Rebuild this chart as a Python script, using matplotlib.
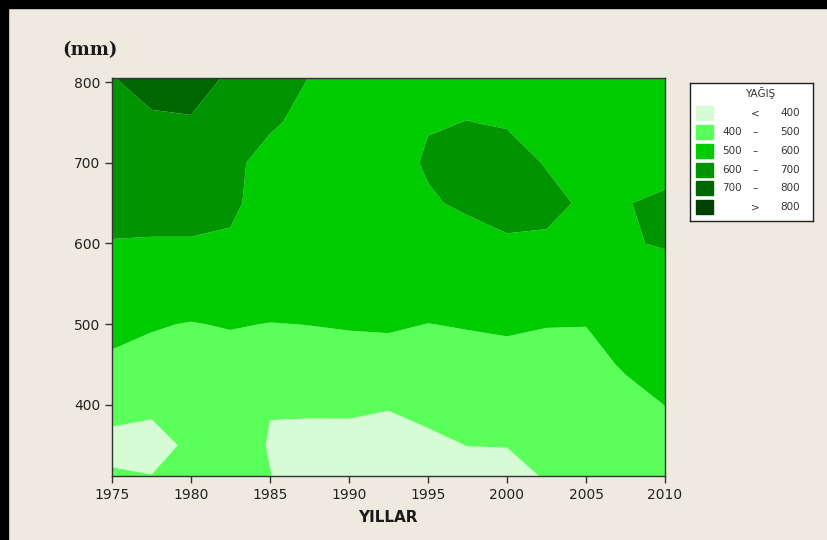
import matplotlib
matplotlib.use('Agg')
import matplotlib.pyplot as plt
from matplotlib.patches import Rectangle
import numpy as np

# grid: years (x), mm (y), rainfall class values (z)
years = [1975, 1977.5, 1980, 1982.5, 1985, 1987.5, 1990, 1992.5, 1995,
         1997.5, 2000, 2002.5, 2005, 2007.5, 2010]
mm = [312, 350, 400, 450, 500, 550, 600, 650, 700, 750, 805]
yagis = [
    [412, 402, 440, 450, 402, 360, 355, 350, 360, 370, 375, 406, 440, 445, 455],
    [370, 360, 420, 440, 395, 360, 365, 370, 385, 401, 402, 420, 445, 455, 470],
    [435, 422, 445, 450, 403, 420, 418, 405, 420, 430, 435, 440, 455, 470, 501],
    [488, 480, 480, 470, 475, 470, 468, 465, 470, 470, 470, 470, 470, 510, 530],
    [520, 505, 497, 505, 498, 501, 506, 510, 499, 505, 513, 503, 502, 540, 550],
    [560, 555, 545, 550, 545, 550, 545, 545, 540, 545, 550, 545, 540, 560, 570],
    [595, 592, 592, 590, 570, 560, 555, 555, 555, 565, 590, 590, 580, 595, 605],
    [640, 640, 640, 615, 565, 560, 555, 560, 590, 615, 630, 618, 590, 597, 615],
    [660, 670, 668, 620, 570, 560, 555, 565, 610, 635, 625, 596, 575, 570, 570],
    [680, 692, 694, 665, 612, 575, 560, 565, 595, 601, 595, 575, 565, 560, 560],
    [698, 720, 730, 690, 650, 598, 570, 565, 570, 580, 575, 565, 560, 560, 555],
]
bounds = [400, 500, 600, 700, 800]
colors = ['#d5fcd5', '#5aff5a', '#00cc00', '#009400', '#006600', '#004000']
xticks = [1975, 1980, 1985, 1990, 1995, 2000, 2005, 2010]
yticks = [400, 500, 600, 700, 800]

bg = '#eeeae0'
fig = plt.figure(figsize=(8.27, 5.4), dpi=100, facecolor=bg)
W, H = 827, 540

# black frame on the left and top
fig.patches.append(Rectangle((0, 0), 8 / W, 1, transform=fig.transFigure,
                             color='black', zorder=5))
fig.patches.append(Rectangle((0, 1 - 8 / H), 1, 8 / H, transform=fig.transFigure,
                             color='black', zorder=5))

ax = fig.add_axes([112 / W, 1 - 476 / H, (665 - 112) / W, (476 - 78) / H])
levels = [0] + bounds + [2000]
ax.contourf(years, mm, np.array(yagis), levels=levels, colors=colors,
            antialiased=True)
ax.set_xlim(1975, 2010)
ax.set_ylim(312, 805)
ax.set_xticks(xticks)
ax.set_yticks(yticks)
for s in ax.spines.values():
    s.set_color('#333333')
    s.set_linewidth(1)
ax.tick_params(direction='out', length=5, width=1, color='#333333',
               labelsize=10, labelcolor='#222222')

fig.text(62 / W, 1 - 50 / H, '(mm)', family='DejaVu Serif', weight='bold',
         size=13, va='center', ha='left', color='#1a1a1a')
fig.text(388 / W, 1 - 518 / H, 'YILLAR', weight='bold', size=11,
         ha='center', va='center', color='#1a1a1a')

# legend box
lg = fig.add_axes([690 / W, 1 - 221 / H, 123 / W, 138 / H])
lg.set_facecolor('white')
lg.set_xlim(690, 813)
lg.set_ylim(221, 83)
lg.set_xticks([])
lg.set_yticks([])
for s in lg.spines.values():
    s.set_color('#222222')
    s.set_linewidth(1)
lg.text(760, 93, 'YAĞIŞ', size=7.5, ha='center', va='center', color='#333333')
labels = ([('', '<', str(bounds[0]))]
          + [(str(a), '–', str(b)) for a, b in zip(bounds[:-1], bounds[1:])]
          + [('', '>', str(bounds[-1]))])
rows_y = [113, 132, 151, 170, 188, 207]
for yc, c, (lo, op, hi) in zip(rows_y, colors, labels):
    lg.add_patch(Rectangle((696, yc - 7), 17, 14, color=c))
    lg.text(742, yc, lo, size=7.5, ha='right', va='center', color='#333333')
    lg.text(755, yc, op, size=7.5, ha='center', va='center', color='#333333')
    lg.text(800, yc, hi, size=7.5, ha='right', va='center', color='#333333')

fig.savefig('out.png', dpi=100, facecolor=bg)
